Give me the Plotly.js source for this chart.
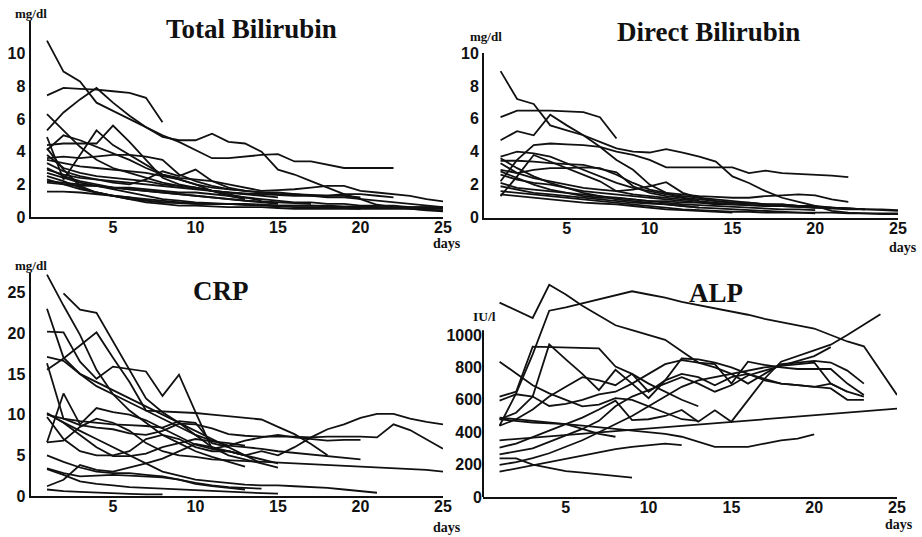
<!DOCTYPE html>
<html><head><meta charset="utf-8">
<script src="https://cdn.plot.ly/plotly-3.0.1.min.js"></script>
<style>html,body{margin:0;padding:0;background:#fff;}#chart{width:922px;height:537px;}</style>
</head><body><div id="chart"></div>
<script>
// ---------- data (values per day, day 1 first; null = not measured) ----------
const dayTicks = [5, 10, 15, 20, 25];
const tbilTicks = [0, 2, 4, 6, 8, 10];
const dbilTicks = [0, 2, 4, 6, 8, 10];
const crpTicks = [0, 5, 10, 15, 20, 25];
const alpTicks = [0, 200, 400, 600, 800, 1000];

const tbil = [
  [10.8,8.9,8.3,7.0,6.5,6.0,5.5,5.0,4.6,4.1,3.6,3.6,3.7,3.8,3.85,3.4,3.4,3.2,3.0,3.0,3.0,3.0],
  [5.3,6.4,7.2,7.9,7.0,6.2,5.5,4.9,4.7,4.7,5.1,4.6,4.5,4.0,2.9,2.6,2.2,1.8,1.4,1.1,0.75,0.6,0.5,0.4,0.35],
  [7.45,7.9,7.85,7.8,7.7,7.6,7.3,5.8],
  [6.3,5.3,4.3,3.5,3.0,2.7,2.4,2.1,1.9,1.8,1.6,1.5,1.4],
  [4.9,2.3,3.8,5.3,4.4,3.8,3.2,2.6,2.4,2.3,2.2,2.0,1.8,1.6,1.65,1.7,1.8,1.9,1.9,1.6,1.5,1.4,1.3,1.1,0.95],
  [4.4,4.5,4.5,4.5,5.6,4.6,3.5,2.4,2.0,1.8,1.6,1.4,1.2,1.0],
  [3.6,3.7,3.6,3.7,3.8,3.8,3.7,3.5,2.6,2.2,1.9,1.7,1.6,1.5,1.5,1.4,1.3,1.2,1.2,1.1,1.0,0.9,0.8,0.7,0.6],
  [4.1,5.0,4.7,4.3,3.9,3.5,3.0,2.6,2.3,2.0,1.8,1.7,1.6],
  [3.8,3.0,2.7,2.5,2.4,2.3,2.2,2.0,1.9,1.8,1.6,1.5,1.4,1.3,1.2],
  [3.3,2.8,2.5,2.3,2.1,2.0,2.3,2.8,2.5,2.9,2.2,1.8,1.6,1.5,1.4,1.4,1.35,1.3,1.3,1.2],
  [2.9,2.6,2.4,2.3,2.2,2.1,2.0,1.9,1.8,1.7,1.6,1.5,1.45,1.4,1.35,1.3,1.3,1.3,1.4,1.4,1.3,1.2],
  [2.7,2.4,2.1,1.9,1.7,1.5,1.3,1.1,1.0,0.9,0.85,0.8,0.75,0.7,0.65,0.6,0.6,0.55,0.55,0.5,0.5,0.5,0.5,0.45,0.4],
  [2.5,2.2,1.8,1.5,1.3,1.2,1.0,0.9,0.9,0.8,0.8,0.8,0.8],
  [2.3,2.0,1.7,1.5,1.3,1.1,0.9,0.8,0.7,0.7,0.65,0.6,0.6,0.6,0.55,0.5,0.5,0.5,0.5,0.5],
  [2.2,2.1,2.0,1.9,1.8,1.7,1.6,1.5,1.4,1.3,1.2,1.1,1.0,0.9,0.8],
  [1.55,1.55,1.5,1.4,1.3,1.2,1.1,1.0,0.9,0.85,0.8,0.8,0.8,0.75,0.7,0.7,0.7,0.65,0.6,0.6,0.6,0.55,0.55,0.5,0.5],
  [4.2,2.9,1.9,1.5,1.3,1.1,1.0,0.9,0.85,0.8,0.8,0.8,0.75,0.75,0.7,0.7,0.7,0.7,0.65,0.65,0.6,0.6,0.6,0.6,0.55],
  [2.1,2.0,1.9,1.9,1.8,1.8,1.7,1.6,1.5,1.5,1.4,1.3,1.2,1.1,1.0,0.9,0.9,0.8,0.8,0.7,0.7,0.7,0.6,0.6,0.6],
  [3.0,2.5,2.2,2.0,1.8,1.7,1.6,1.5,1.4,1.3,1.2,1.1,1.0,0.95,0.9,0.85,0.8],
  [3.5,3.3,3.1,3.0,2.9,2.8,2.7,2.5,2.3,2.0,1.6,1.3,1.1]
];

const dbil = [
  [8.9,7.2,6.9,5.6,5.3,5.0,4.6,4.2,4.0,3.95,4.15,3.95,3.7,3.4,2.5,2.1,1.6,1.2,0.95,0.7,0.4,0.3,0.25,0.25,0.25],
  [6.1,6.5,6.5,6.5,6.45,6.4,6.1,4.8],
  [4.7,5.25,5.0,6.25,5.6,5.0,4.3,3.5,2.9,2.0,1.5,1.2,1.0,0.9,0.8],
  [2.2,3.5,4.4,4.5,4.45,4.4,4.3,4.0,3.8,3.5,3.05,3.05,3.05,3.05,3.05,2.7,2.85,2.7,2.65,2.6,2.55,2.45],
  [3.7,4.0,3.9,3.7,3.3,2.9,2.5,2.1,1.8,1.6,1.4,1.3,1.2,1.1,1.0,0.9,0.8,0.8,0.7,0.6],
  [1.3,2.5,3.8,3.4,3.0,2.6,2.2,1.6,1.4,1.3,1.2,1.1,1.0],
  [3.45,3.45,3.4,3.3,3.25,3.2,2.95,2.75,1.9,1.5,1.3,1.2,1.1,1.0,0.9,0.9,0.8,0.8,0.7,0.7,0.6,0.55,0.5],
  [2.9,2.7,2.9,3.0,3.0,3.05,3.0,2.6,2.1,1.7,1.5,1.4,1.3,1.25,1.2,1.2,1.3,1.35,1.4,1.35,1.1,0.95],
  [3.3,2.7,2.4,2.2,2.0,1.8,1.7,1.6,1.7,1.9,2.15,1.5,1.2,1.0,0.9,0.85,0.8,0.75,0.7,0.65,0.6,0.55,0.5,0.45,0.4],
  [2.6,2.3,2.1,2.0,1.8,1.6,1.5,1.4,1.3,1.2,1.1,1.0,0.9,0.85,0.8,0.75,0.7,0.7,0.65,0.6,0.6,0.55,0.5,0.5,0.45],
  [2.1,1.8,1.7,1.6,1.5,1.4,1.3,1.2,1.1,1.0,0.9,0.8,0.75,0.7,0.65,0.6,0.55,0.5,0.5,0.45],
  [1.9,1.7,1.5,1.4,1.3,1.2,1.1,1.0,0.9,0.85,0.8,0.7,0.6,0.55,0.5,0.45,0.4,0.35,0.3,0.3,0.3,0.25,0.25,0.2,0.2],
  [1.4,1.3,1.2,1.1,1.0,0.9,0.85,0.8,0.7,0.6,0.5,0.45,0.4,0.35,0.3],
  [3.6,3.0,2.5,2.1,1.8,1.5,1.3,1.1,1.0,0.9,0.8,0.7,0.6],
  [2.8,2.4,2.0,1.7,1.5,1.3,1.2,1.2,1.1,1.0,1.0,0.9,0.9,0.8,0.8,0.75,0.7,0.7,0.65,0.6,0.55,0.5,0.5],
  [1.6,1.5,1.4,1.3,1.2,1.1,1.0,0.9,0.8,0.7,0.6,0.5,0.45,0.4,0.35,0.35,0.3,0.3,0.3,0.25]
];

const crp = [
  [27.2,23.4,19.8,15.5,12.5,10.5,9.0,7.5,6.5,5.5,4.8,4.2,3.6],
  [null,24.9,22.9,22.5,19.0,15.5,12.0,10.3,9.0,7.5,6.0,5.0,4.5,4.0],
  [15.5,16.9,18.5,20.1,17.0,14.0,10.5,10.4,10.3,10.2,10.0,9.8,9.6,9.4,8.5,7.6,6.4,5.0],
  [20.2,20.1,16.5,14.4,15.9,15.6,15.3,12.3,14.9,10.3,5.8,6.2,6.8,7.2,7.5,7.2,7.0,6.8,6.9,6.9],
  [23.0,17.0,15.0,14.0,13.0,12.0,11.0,10.0,9.0,8.0,7.0,6.0,5.0,4.0,3.5],
  [17.1,16.6,15.0,13.5,12.5,11.5,10.5,9.5,8.5,7.5,6.8,6.2,6.0,5.8,5.5,5.3,5.1,4.9,4.7,4.5],
  [16.3,9.5,9.2,9.0,8.8,8.7,8.6,8.4,9.2,9.0,6.5,6.0],
  [10.0,9.5,8.7,8.4,8.2,7.7,7.5,8.0,8.9,8.8,8.3,7.6,7.4,7.3,7.3,7.3,7.2,7.3,7.3,7.3,7.2,8.8,8.1,7.0,5.8],
  [6.6,12.6,8.8,10.8,10.3,10.0,9.3,8.3,7.3,6.3,5.8,5.5,5.0,4.5,4.0],
  [9.7,7.0,5.5,5.0,5.0,5.5,7.0,7.5,7.0,6.0,5.5,5.5,5.0,5.5,5.0,6.0,7.2,8.2,8.8,9.6,10.1,10.1,9.5,9.1,8.8],
  [6.6,6.8,8.5,9.5,9.0,8.0,6.5,5.5,5.0,4.8,4.5,4.4,4.3,4.2,4.1,4.0,3.9,3.8,3.7,3.6,3.5,3.4,3.3,3.2,3.0],
  [10.2,9.0,7.5,6.0,4.9,4.9,5.2,6.0,6.5,7.0,6.7,6.5,6.2],
  [5.0,4.2,3.5,3.0,2.8,2.8,2.6,2.4,2.0,1.5,1.2,1.0,0.8],
  [3.4,2.8,2.4,2.5,2.6,2.5,2.4,2.3,2.0,1.6,1.3,1.1,1.0,0.9],
  [1.2,2.0,3.8,3.2,3.0,3.5,4.0,4.6,5.5,6.4,6.0,5.5,5.0],
  [0.8,0.6,0.5,0.4,0.3,0.25,0.2,0.2],
  [3.3,2.6,1.8,1.5,1.3,1.1,1.0,0.9,0.8,0.7,0.6,0.5,0.4,0.35,0.3],
  [10.1,9.0,8.0,7.0,6.0,5.0,4.0,3.0,2.5,2.0,1.8,1.6,1.4,1.3,1.3,1.2,1.1,1.0,0.8,0.6,0.4]
];

const alp = [
  [1200,1150,1105,1310,1250,1180,1120,1060,1030,1000,970,900,830,820,700,835,815,800,790,790,790,700,630],
  [440,640,880,1150,1170,1195,1220,1245,1270,1250,1230,1205,1185,1165,1145,1125,1100,1080,1060,1040,1000,960,930,780,630],
  [350,null,null,null,null,null,null,null,null,null,null,null,null,null,null,null,null,null,null,null,null,null,null,null,545],
  [620,650,928,925,922,920,918,805,760,700,650,600,560],
  [835,760,690,640,600,560,570,610,600,560,520,480,470],
  [480,520,620,942,850,760,660,785,700,610,720,855,850,830,800,760,730,700,690,680,700,650,620],
  [595,634,620,562,575,600,634,650,700,760,820,845,830,800,760,700,760,820,830,840,830,780,700],
  [440,480,540,620,680,740,720,690,760,650,720,760,740,690,740,760,720,700,690,680,670,600,600],
  [305,330,370,410,450,490,540,595,475,480,500,537,465,535,465,600,730,835,870,905,940,1000,1065,1128],
  [263,280,300,340,380,420,470,560,620,660,700,740,700,650,690,750,780,810,840,870,925],
  [198,215,240,270,310,350,400,450,500,560,620,680,720,740,760,780,800,810,820,830,700,650],
  [238,238,200,180,160,150,140,130,120],
  [156,175,195,215,235,255,275,295,310,320,330,320],
  [490,480,470,460,450,420,390,372],
  [480,470,460,455,450,440,430,420,410,400,390,372,340,310,310,310,330,350,360,387]
];

// ---------- drawing ----------
const W = 922, H = 537;
const fx = p => p / W;
const fy = p => 1 - p / H;

const traces = [];
function addPanel(series, xa, ya) {
  series.forEach(vals => {
    traces.push({
      x: vals.map((_, i) => i + 1),
      y: vals,
      xaxis: xa, yaxis: ya,
      mode: 'lines',
      connectgaps: true,
      line: {color: '#111', width: 1.8},
      hoverinfo: 'skip',
      showlegend: false
    });
  });
}
addPanel(tbil, 'x', 'y');
addPanel(dbil, 'x2', 'y2');
addPanel(crp, 'x3', 'y3');
addPanel(alp, 'x4', 'y4');

const tickFont = {family: 'Liberation Sans, Arial, sans-serif', size: 16, color: '#111', weight: 'bold'};
function xAxis(d0, d1, anchor) {
  return {domain: [fx(d0), fx(d1)], range: [0, 25], anchor: anchor,
    showgrid: false, zeroline: false, showline: true, linecolor: '#111', linewidth: 2,
    ticks: '', tickvals: dayTicks, tickfont: tickFont, ticklabelstandoff: -5, fixedrange: true};
}
function yAxis(b, t, range, tv, anchor, showline) {
  return {domain: [fy(b), fy(t)], range: range, anchor: anchor,
    showgrid: false, zeroline: false, showline: showline, linecolor: '#111', linewidth: 2,
    ticks: '', tickvals: tv, tickfont: tickFont, fixedrange: true};
}

const serif = 'Liberation Serif, Times New Roman, serif';
function label(text, x, y, size) {
  return {text: text, x: fx(x), y: fy(y), xref: 'paper', yref: 'paper',
    xanchor: 'center', yanchor: 'middle', showarrow: false,
    font: {family: serif, size: size, color: '#111', weight: 'bold'}};
}

const layout = {
  width: W, height: H,
  margin: {l: 0, r: 0, t: 0, b: 0},
  paper_bgcolor: '#fff', plot_bgcolor: '#fff',
  showlegend: false,
  xaxis: xAxis(30.5, 443, 'y'),
  yaxis: yAxis(217, 21, [0, 12], tbilTicks, 'x', true),
  xaxis2: xAxis(484, 898, 'y2'),
  yaxis2: yAxis(217.5, 53, [0, 10], dbilTicks, 'x2', true),
  xaxis3: xAxis(30.5, 443, 'y3'),
  yaxis3: yAxis(496, 273, [0, 27.4], crpTicks, 'x3', true),
  xaxis4: xAxis(483, 897, 'y4'),
  yaxis4: yAxis(497, 278.3, [0, 1350], alpTicks, 'x4', false),
  shapes: [
    {type: 'line', xref: 'x4 domain', yref: 'y4', x0: 0, x1: 0, y0: 0, y1: 1030,
     line: {color: '#111', width: 2}}
  ],
  annotations: [
    label('Total Bilirubin', 251, 29, 27),
    label('Direct Bilirubin', 708, 32, 27),
    label('CRP', 221, 291, 27),
    label('ALP', 716, 293, 27),
    label('mg/dl', 31, 14, 13),
    label('mg/dl', 486, 37, 13),
    label('mg/dl', 31, 265, 13),
    label('IU/l', 484, 316, 13.5),
    label('days', 447, 244, 14),
    label('days', 903, 248, 14),
    label('days', 447, 527, 14),
    label('days', 899, 524, 14)
  ]
};

Plotly.newPlot('chart', traces, layout, {displayModeBar: false, staticPlot: true});
</script>
</body></html>
